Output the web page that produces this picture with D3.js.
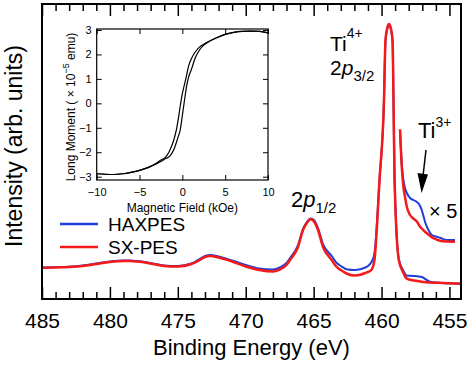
<!DOCTYPE html>
<html>
<head>
<meta charset="utf-8">
<script src="https://cdn.jsdelivr.net/npm/d3@7"></script>
<style>
  body { margin: 0; background: #fff; }
  svg { display: block; font-family: "Liberation Sans", Arial, sans-serif; }
  .axis path { display: none; }
  .axis line { stroke: #000; }
</style>
</head>
<body>
<div class="chart"></div>
<script>
// binding energy grid (eV) shared by both spectra
const energy = [485, 484, 483, 482, 481, 480, 479, 478.5, 478, 477, 476, 475, 474, 473.5, 473, 472.6, 472, 471, 470, 469, 468, 467.5, 467, 466.74, 466.15, 465.78, 465.5, 465.21, 464.95, 464.68, 464.31, 463.67, 463.3, 463, 462.5, 462, 461.5, 461.2, 461, 460.85, 460.7, 460.52, 460.15, 459.82, 459.71, 459.58, 459.45, 459.32, 459.19, 459.12, 459.04, 458.73, 458.42, 458.14, 457.6, 457.04, 456.43, 455.5, 454.2]
const haxpes = [31.5, 31.8, 32.3, 33.5, 35.5, 37.5, 38.5, 38.5, 38, 36, 33.5, 33, 35.5, 39, 43, 44, 42.5, 38.5, 34, 30.5, 29.5, 31.5, 36, 41, 54, 70, 77, 80.5, 78.5, 71, 55, 43, 36, 33, 29.5, 29, 30, 31.5, 33, 35, 38, 46, 119, 199, 258, 270, 274, 270, 257, 199, 119, 40, 29, 23.3, 23, 22, 17.3, 16, 15.5]
const sxpes = [31.3, 31.5, 32, 33, 35, 37, 38, 38, 37.5, 35.5, 33, 32.5, 35, 38, 42, 43, 41.5, 37.5, 32.5, 29, 27.5, 29.5, 34, 39, 52, 69, 76, 79.7, 77, 69, 52, 39, 32, 29, 25, 23.5, 24.5, 26, 27, 28, 30, 39, 119, 199, 259, 271, 275, 271, 259, 199, 119, 39, 27, 20.3, 18.5, 17.3, 16.5, 16, 15.3]

// x5 magnified Ti3+ region
const energyX5 = [458.64, 458.51, 458.39, 458.27, 458.14, 457.9, 457.66, 457.4, 457.16, 457.04, 456.8, 456.55, 456.3, 456.0, 455.7, 455.2, 454.59]
const haxpesX5 = [169, 134, 119, 110.7, 106, 101, 99, 97, 93, 89, 77.3, 69, 64, 62.5, 61.2, 59, 59]
const sxpesX5 = [169.7, 132.3, 112.3, 102, 92.3, 84, 80.5, 77.5, 72.3, 70.5, 67.3, 64.5, 61.8, 59.8, 58.3, 57.5, 57.3]

// inset: magnetization loop
const field = [-10, -9, -8, -7, -6, -5, -4, -3, -2.5, -2, -1.5, -1, -0.7, -0.5, -0.25, 0, 0.2, 0.5, 0.75, 1, 1.5, 2, 2.5, 3, 4, 5, 6, 7, 8, 9, 10]
const momentUp = [-2.88, -2.9, -2.91, -2.88, -2.82, -2.74, -2.63, -2.47, -2.38, -2.27, -2.17, -1.9, -1.6, -1.38, -1.09, -0.5, 0, 0.7, 1.1, 1.33, 1.85, 2.18, 2.38, 2.5, 2.68, 2.82, 2.9, 2.94, 2.95, 2.94, 2.88]
const momentDown = [-2.88, -2.9, -2.91, -2.88, -2.82, -2.74, -2.62, -2.44, -2.32, -2.22, -1.95, -1.5, -1.09, -0.7, -0.12, 0.4, 0.7, 1.15, 1.55, 1.78, 2.1, 2.3, 2.42, 2.52, 2.68, 2.82, 2.9, 2.94, 2.95, 2.94, 2.88]

const majorTicks = [485, 480, 475, 470, 465, 460, 455]
const minorTicks = d3.range(455, 486).filter(d => d % 5 !== 0)
const fieldTicks = [-10, -5, 0, 5, 10]
const momentTicks = [-3, -2, -1, 0, 1, 2, 3]

const blue = '#1f3fd8'
const red = '#f41a1a'

const width = 469
const height = 365
const frame = { left: 42, right: 461, top: 4, bottom: 299 }

const svg = d3.select('.chart')
  .append('svg')
  .attr('width', width)
  .attr('height', height)

const x = d3.scaleLinear().domain([485, 454.15]).range([frame.left, frame.right])
const y = d3.scaleLinear().domain([0, 295]).range([frame.bottom, frame.top])

// ticks (inward, top and bottom)
svg.append('g')
  .attr('class', 'axis')
  .attr('transform', `translate(0, ${frame.bottom})`)
  .call(d3.axisBottom(x).tickValues(majorTicks).tickSize(-12).tickPadding(14).tickFormat(d3.format('d')))
  .call(g => g.selectAll('line').attr('stroke-width', 1.5))
  .call(g => g.selectAll('text').attr('font-size', 21).attr('fill', '#000').attr('font-family', null))

svg.append('g')
  .attr('class', 'axis')
  .attr('transform', `translate(0, ${frame.bottom})`)
  .call(d3.axisBottom(x).tickValues(minorTicks).tickSize(-7).tickFormat(''))
  .call(g => g.selectAll('line').attr('stroke-width', 1.5))

svg.append('g')
  .attr('class', 'axis')
  .attr('transform', `translate(0, ${frame.top})`)
  .call(d3.axisTop(x).tickValues(majorTicks).tickSize(-12).tickFormat(''))
  .call(g => g.selectAll('line').attr('stroke-width', 1.5))

svg.append('g')
  .attr('class', 'axis')
  .attr('transform', `translate(0, ${frame.top})`)
  .call(d3.axisTop(x).tickValues(minorTicks).tickSize(-7).tickFormat(''))
  .call(g => g.selectAll('line').attr('stroke-width', 1.5))

// spectra
const line = d3.line()
  .x(d => x(d[0]))
  .y(d => y(d[1]))
  .curve(d3.curveMonotoneX)

const series = [
  { e: energy, v: haxpes, color: blue, w: 2 },
  { e: energyX5, v: haxpesX5, color: blue, w: 2 },
  { e: energy, v: sxpes, color: red, w: 2.5 },
  { e: energyX5, v: sxpesX5, color: red, w: 2.5 }
]

svg.append('g')
  .selectAll('path')
  .data(series)
  .join('path')
  .attr('fill', 'none')
  .attr('stroke', d => d.color)
  .attr('stroke-width', d => d.w)
  .attr('stroke-linejoin', 'round')
  .attr('d', d => line(d.e.map((e, i) => [e, d.v[i]])))

// frame
svg.append('rect')
  .attr('x', frame.left)
  .attr('y', frame.top)
  .attr('width', frame.right - frame.left)
  .attr('height', frame.bottom - frame.top)
  .attr('fill', 'none')
  .attr('stroke', '#000')
  .attr('stroke-width', 2)

// axis titles
svg.append('text')
  .attr('x', (frame.left + frame.right) / 2)
  .attr('y', 355)
  .attr('text-anchor', 'middle')
  .attr('font-size', 22)
  .text('Binding Energy (eV)')

svg.append('text')
  .attr('transform', 'translate(22, 146) rotate(-90)')
  .attr('text-anchor', 'middle')
  .attr('font-size', 23)
  .text('Intensity (arb. units)')

// legend
const legend = [
  { name: 'HAXPES', color: blue, y: 224 },
  { name: 'SX-PES', color: red, y: 247 }
]
legend.forEach(d => {
  svg.append('line')
    .attr('x1', 60).attr('x2', 98)
    .attr('y1', d.y).attr('y2', d.y)
    .attr('stroke', d.color)
    .attr('stroke-width', 2.5)
  svg.append('text')
    .attr('x', 108)
    .attr('y', d.y + 6.5)
    .attr('font-size', 19)
    .text(d.name)
})

// annotations
function label(xPos, yPos, size, parts) {
  const t = svg.append('text').attr('x', xPos).attr('y', yPos).attr('font-size', size)
  let shift = 0
  parts.forEach(p => {
    const s = t.append('tspan').text(p.text)
    const dy = (p.dy || 0) - shift
    if (dy) s.attr('dy', dy)
    shift = p.dy || 0
    if (p.size) s.attr('font-size', p.size)
    if (p.italic) s.attr('font-style', 'italic')
  })
}

label(330, 50.5, 21, [{ text: 'Ti' }, { text: '4+', size: 14, dy: -13 }])
label(330, 74.5, 21, [{ text: '2' }, { text: 'p', italic: true }, { text: '3/2', size: 15, dy: 6 }])
label(291, 207, 22, [{ text: '2' }, { text: 'p', italic: true }, { text: '1/2', size: 15, dy: 6 }])
label(418, 138, 22, [{ text: 'Ti' }, { text: '3+', size: 14, dy: -11 }])
label(429, 218, 20, [{ text: '× 5' }])

// arrow to Ti3+ shoulder
svg.append('line')
  .attr('x1', 426).attr('y1', 150)
  .attr('x2', 423).attr('y2', 176)
  .attr('stroke', '#000')
  .attr('stroke-width', 1.5)
svg.append('path')
  .attr('d', 'M417.5,173 L428,174.5 L421.6,193 Z')
  .attr('fill', '#000')

// inset: magnetization loop
const inset = { left: 96.7, right: 268, top: 29, bottom: 180 }
const hx = d3.scaleLinear().domain([-10, 10]).range([inset.left, inset.right])
const my = d3.scaleLinear().domain([-3.135, 3.04]).range([inset.bottom, inset.top])

svg.append('rect')
  .attr('x', inset.left)
  .attr('y', inset.top)
  .attr('width', inset.right - inset.left)
  .attr('height', inset.bottom - inset.top)
  .attr('fill', '#fff')

const insetFont = g => g.selectAll('text').attr('font-size', 11).attr('fill', '#000').attr('font-family', null)

svg.append('g')
  .attr('class', 'axis')
  .attr('transform', `translate(0, ${inset.bottom})`)
  .call(d3.axisBottom(hx).tickValues(fieldTicks).tickSize(-5).tickPadding(8).tickFormat(d3.format('d')))
  .call(insetFont)

svg.append('g')
  .attr('class', 'axis')
  .attr('transform', `translate(0, ${inset.top})`)
  .call(d3.axisTop(hx).tickValues(fieldTicks).tickSize(-5).tickFormat(''))

svg.append('g')
  .attr('class', 'axis')
  .attr('transform', `translate(${inset.left}, 0)`)
  .call(d3.axisLeft(my).tickValues(momentTicks).tickSize(-5).tickPadding(5).tickFormat(d3.format('d')))
  .call(insetFont)

svg.append('g')
  .attr('class', 'axis')
  .attr('transform', `translate(${inset.right}, 0)`)
  .call(d3.axisRight(my).tickValues(momentTicks).tickSize(-5).tickFormat(''))

const loop = d3.line()
  .x(d => hx(d[0]))
  .y(d => my(d[1]))
  .curve(d3.curveMonotoneX)

svg.append('g')
  .selectAll('path')
  .data([momentUp, momentDown])
  .join('path')
  .attr('fill', 'none')
  .attr('stroke', '#000')
  .attr('stroke-width', 1.2)
  .attr('d', m => loop(field.map((h, i) => [h, m[i]])))

svg.append('rect')
  .attr('x', inset.left)
  .attr('y', inset.top)
  .attr('width', inset.right - inset.left)
  .attr('height', inset.bottom - inset.top)
  .attr('fill', 'none')
  .attr('stroke', '#000')
  .attr('stroke-width', 1.2)

svg.append('text')
  .attr('x', (inset.left + inset.right) / 2)
  .attr('y', 212)
  .attr('text-anchor', 'middle')
  .attr('font-size', 12)
  .text('Magnetic Field (kOe)')

const yl = svg.append('text')
  .attr('transform', 'translate(75, 107) rotate(-90)')
  .attr('text-anchor', 'middle')
  .attr('font-size', 12)
yl.append('tspan').text('Long Moment ( × 10')
yl.append('tspan').attr('font-size', 9).attr('dy', -6).text('−5')
yl.append('tspan').attr('dy', 6).text(' emu)')
</script>
</body>
</html>
